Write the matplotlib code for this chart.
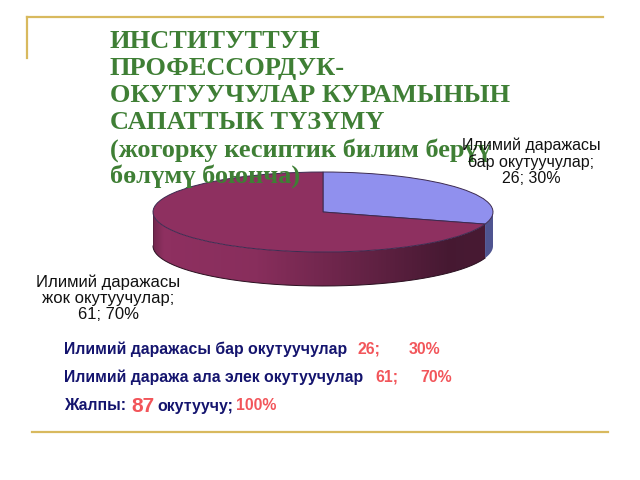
import numpy as np
import matplotlib
matplotlib.use('Agg')
import matplotlib.pyplot as plt
from matplotlib.patches import Polygon

plt.rcParams['font.family'] = ['Liberation Sans', 'DejaVu Sans']

# data
categories = ['Илимий даражасы\nбар окутуучулар', 'Илимий даражасы\nжок окутуучулар']
counts = [26, 61]
percents = [30, 70]
total = 87
title_lines = ['ИНСТИТУТТУН', 'ПРОФЕССОРДУК-', 'ОКУТУУЧУЛАР КУРАМЫНЫН', 'САПАТТЫК ТҮЗҮМҮ',
               '(жогорку кесиптик билим берүү', 'бөлүмү боюнча)']

GREEN = '#3f7f35'
NAVY = '#14146e'
RED = '#f2555a'
GOLD = '#d8b95e'

fig = plt.figure(figsize=(6.4, 4.8), dpi=100)
bg = fig.add_axes([0, 0, 1, 1])
bg.set_xlim(0, 640)
bg.set_ylim(480, 0)
bg.axis('off')

# рамка
bg.plot([27, 603], [17, 17], color=GOLD, lw=1.6)
bg.plot([27, 27], [17, 58], color=GOLD, lw=1.6)
bg.plot([32, 608], [432, 432], color=GOLD, lw=1.6)

# pie geometry in pixels
cx, cy, rx, ry, depth = 323, 212, 170, 40, 34

# боковая стенка
start = 90 - 360 * counts[0] / sum(counts)
t = np.radians(np.linspace(start, -180, 200))
xs = cx + rx * np.cos(t)
ys = cy - ry * np.sin(t)
wall = np.r_[np.c_[xs, ys], np.c_[xs[::-1], ys[::-1] + depth]]
grad = np.interp(np.linspace(0, 1, 340), [0, 0.03, 0.3, 0.55, 0.87, 1], [0.75, 1, 0.95, 0.7, 0.36, 0.38])
cmap = matplotlib.colors.LinearSegmentedColormap.from_list('w', ['#1e0c18', '#8e3060'])
im = bg.imshow(grad[None, :], cmap=cmap, vmin=0, vmax=1, aspect='auto',
               extent=(cx - rx, cx + rx, cy + ry + depth, cy - ry), zorder=1)
im.set_clip_path(Polygon(wall, transform=bg.transData))

t2 = np.radians(np.linspace(0, start, 30))
xs2 = cx + rx * np.cos(t2)
ys2 = cy - ry * np.sin(t2)
wall2 = np.r_[np.c_[xs2, ys2], np.c_[xs2[::-1], ys2[::-1] + depth]]
bg.add_patch(Polygon(wall2, closed=True, fc='#4f5490', ec='none', zorder=1))
bg.plot(xs, ys + depth, color='#2a1020', lw=0.7, zorder=2)
bg.plot([cx - rx, cx - rx], [cy, cy + depth], color='#5a2040', lw=0.7, zorder=2)
bg.set_xlim(0, 640)
bg.set_ylim(480, 0)

# верх пирога
ax = fig.add_axes([(cx - rx) / 640, 1 - (cy + ry) / 480, 2 * rx / 640, 2 * ry / 480])
ax.pie(counts, colors=['#9090ee', '#8e3060'], startangle=90, counterclock=False, radius=1,
       wedgeprops={'edgecolor': '#3c2a50', 'linewidth': 0.7})
ax.set_aspect('auto')
ax.set_xlim(-1, 1)
ax.set_ylim(-1, 1)

# overlay for text
top = fig.add_axes([0, 0, 1, 1])
top.set_xlim(0, 640)
top.set_ylim(480, 0)
top.axis('off')
top.patch.set_alpha(0)

for i, line in enumerate(title_lines):
    top.text(110, 42 + i * 26.9, line, color=GREEN, fontsize=19, fontweight='bold',
             family=['Liberation Serif'], va='center', ha='left')

top.text(531, 162, f'{categories[0]};\n{counts[0]}; {percents[0]}%', fontsize=11.5, ha='center', va='center',
         color='#111111', linespacing=1.1)
top.text(108, 298, f'{categories[1]};\n{counts[1]}; {percents[1]}%', fontsize=12, ha='center', va='center',
         color='#111111', linespacing=1.1)

rows = [
    (349, [(64, 'Илимий даражасы бар окутуучулар', NAVY, 11.4), (358, f'{counts[0]};', RED, 11.4),
           (409, f'{percents[0]}%', RED, 11.4)]),
    (377, [(64, 'Илимий даража ала элек окутуучулар', NAVY, 11.4), (375, f'{counts[1]};', RED, 11.4),
           (420, f'{percents[1]}%', RED, 11.4)]),
    (406, [(64, 'Жалпы:', NAVY, 11.4), (131, f'{total}', RED, 15), (157, 'окутуучу;', NAVY, 11.4),
           (236, '100%', RED, 11.4)]),
]
for y, parts in rows:
    for x, s, c, fs in parts:
        top.text(x, y, s, color=c, fontsize=fs, fontweight='bold', va='center', ha='left')

fig.savefig('out.png', dpi=100)
